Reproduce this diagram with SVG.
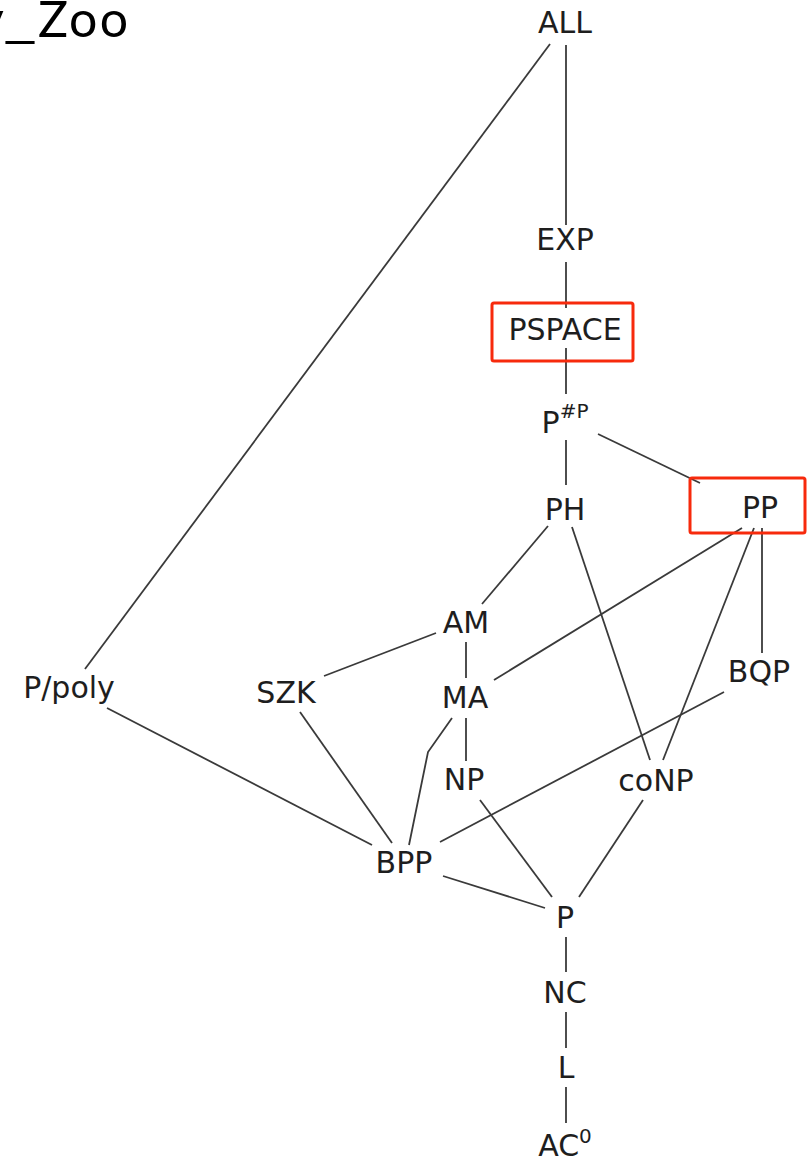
<svg xmlns="http://www.w3.org/2000/svg" width="807" height="1159" viewBox="0 0 807 1159">
  <style>
    .lbl { font-family: "DejaVu Sans", sans-serif; font-size: 30px; fill: #1e1e1e; text-anchor: middle; }
    .sup { font-family: "DejaVu Sans", sans-serif; font-size: 20px; fill: #1e1e1e; }
    .edge { stroke: #3a3a3a; stroke-width: 1.8; fill: none; stroke-linecap: butt; }
    .hl { fill: none; stroke: #f72a0c; stroke-width: 3; }
    .title { font-family: "Lato", "Liberation Sans", sans-serif; font-size: 50px; fill: #000; }
  </style>
  <rect width="807" height="1159" fill="#ffffff"/>

  <!-- page title, running off the left edge -->
  <text class="title" y="37"><tspan x="-22">y</tspan><tspan x="3" textLength="34" lengthAdjust="spacingAndGlyphs">_</tspan><tspan x="38" textLength="90" lengthAdjust="spacing">Zoo</tspan></text>

  <!-- containment edges -->
  <g id="edges">
    <line class="edge" x1="566" y1="45" x2="566" y2="225"/>
    <line class="edge" x1="550" y1="44" x2="85" y2="669"/>
    <line class="edge" x1="566" y1="262" x2="566" y2="308"/>
    <line class="edge" x1="566" y1="348" x2="566" y2="394"/>
    <line class="edge" x1="566" y1="440" x2="566" y2="485"/>
    <line class="edge" x1="598" y1="434" x2="700" y2="483"/>
    <line class="edge" x1="548" y1="526" x2="482" y2="604"/>
    <line class="edge" x1="572" y1="527" x2="650" y2="760"/>
    <line class="edge" x1="742" y1="528" x2="494" y2="680"/>
    <line class="edge" x1="754" y1="528" x2="663" y2="760"/>
    <line class="edge" x1="762" y1="528" x2="762" y2="653"/>
    <line class="edge" x1="466" y1="642" x2="466" y2="678"/>
    <line class="edge" x1="436" y1="633" x2="324" y2="676"/>
    <line class="edge" x1="300" y1="712" x2="392" y2="843"/>
    <polyline class="edge" points="452,718 428,752 409,845"/>
    <line class="edge" x1="466" y1="718" x2="466" y2="761"/>
    <line class="edge" x1="724" y1="692" x2="440" y2="842"/>
    <line class="edge" x1="480" y1="800" x2="552" y2="897"/>
    <line class="edge" x1="643" y1="800" x2="579" y2="897"/>
    <line class="edge" x1="443" y1="876" x2="545" y2="908"/>
    <line class="edge" x1="107" y1="708" x2="372" y2="845"/>
    <line class="edge" x1="566" y1="937" x2="566" y2="972"/>
    <line class="edge" x1="566" y1="1012" x2="566" y2="1048"/>
    <line class="edge" x1="566" y1="1087" x2="566" y2="1123"/>
  </g>

  <g id="n-all"><text class="lbl" x="565" y="33">ALL</text></g>
  <g id="n-exp"><text class="lbl" x="565" y="250">EXP</text></g>
  <g id="n-pspace">
    <rect class="hl" x="492" y="303" width="141" height="58" rx="2"/>
    <text class="lbl" x="565" y="340">PSPACE</text>
  </g>
  <g id="n-psharpp"><text class="lbl" x="565" y="433">P<tspan class="sup" dy="-15">#P</tspan></text></g>
  <g id="n-ph"><text class="lbl" x="565" y="520">PH</text></g>
  <g id="n-pp">
    <rect class="hl" x="690" y="478" width="115" height="55" rx="2"/>
    <text class="lbl" x="760" y="518">PP</text>
  </g>
  <g id="n-am"><text class="lbl" x="466" y="633">AM</text></g>
  <g id="n-ppoly"><text class="lbl" x="69" y="698">P/poly</text></g>
  <g id="n-szk"><text class="lbl" x="286" y="703">SZK</text></g>
  <g id="n-ma"><text class="lbl" x="465" y="708">MA</text></g>
  <g id="n-bqp"><text class="lbl" x="759" y="682">BQP</text></g>
  <g id="n-np"><text class="lbl" x="464" y="790">NP</text></g>
  <g id="n-conp"><text class="lbl" x="656" y="791">coNP</text></g>
  <g id="n-bpp"><text class="lbl" x="404" y="873">BPP</text></g>
  <g id="n-p"><text class="lbl" x="565" y="928">P</text></g>
  <g id="n-nc"><text class="lbl" x="565" y="1003">NC</text></g>
  <g id="n-l"><text class="lbl" x="566" y="1078">L</text></g>
  <g id="n-ac0"><text class="lbl" x="565" y="1156">AC<tspan class="sup" font-size="23" dy="-13">0</tspan></text></g>
</svg>
